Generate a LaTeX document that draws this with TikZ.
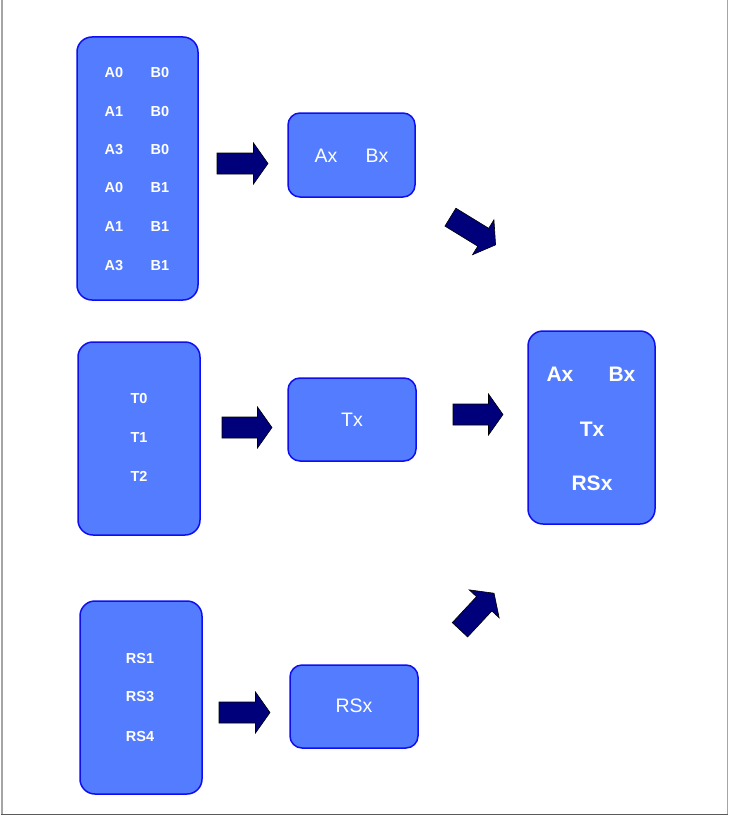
\documentclass[tikz,border=0pt]{standalone}
\usepackage{fontspec}
\setmainfont{Liberation Sans}
\definecolor{boxfill}{RGB}{84,124,255}
\definecolor{boxline}{RGB}{14,14,240}
\definecolor{navyarrow}{RGB}{0,0,122}
\definecolor{frameline}{RGB}{165,165,165}
\definecolor{framebase}{RGB}{90,90,90}
\tikzset{
  panel/.style={draw=boxline, fill=boxfill, line width=1.5pt, inner sep=0pt},
  bigpanel/.style={panel, rounded corners=15pt},
  smallpanel/.style={panel, rounded corners=12pt, minimum width=127pt, minimum height=83pt},
  smalllbl/.style={text=white, inner sep=0pt, font=\bfseries\fontsize{14.5}{14.5}\selectfont},
  midlbl/.style={text=white, inner sep=0pt, font=\fontsize{19.5}{19.5}\selectfont},
  biglbl/.style={text=white, inner sep=0pt, font=\bfseries\fontsize{21}{21}\selectfont},
  blockarrow/.pic={
    \filldraw[fill=navyarrow, draw=black, line width=0.6pt, line join=miter]
      (-#1/2,-10.5) -- (#1/2-14.5,-10.5) -- (#1/2-14.5,-20.5) -- (#1/2,0)
      -- (#1/2-14.5,20.5) -- (#1/2-14.5,10.5) -- (-#1/2,10.5) -- cycle;
  }
}
\begin{document}
\begin{tikzpicture}[x=1pt, y=-1pt]
  \useasboundingbox (0,0) rectangle (729,816);
  \fill[white] (0,0) rectangle (729,816);
  % page frame
  \draw[frameline, line width=1.2pt] (2,0) -- (2,814.5);
  \draw[frameline, line width=1.2pt] (727.5,0) -- (727.5,814.5);
  \draw[framebase, line width=1.4pt] (1.4,814.5) -- (728.1,814.5);

  % source panels
  \node[bigpanel, minimum width=121pt, minimum height=263pt] (ab) at (137.5,168.5) {};
  \node[bigpanel, minimum width=122pt, minimum height=193pt] (tt) at (139,438.5) {};
  \node[bigpanel, minimum width=122pt, minimum height=193pt] (rs) at (141,697.5) {};

  % A/B combinations
  \foreach \y/\a/\b [count=\i] in {73/A0/B0, 112/A1/B0, 150/A3/B0, 188/A0/B1, 227/A1/B1, 266/A3/B1} {
    \node[smalllbl] (a\i) at (114,\y) {\a};
    \node[smalllbl] (b\i) at (160,\y) {\b};
  }
  % T values
  \node[smalllbl] (t0) at (139,399) {T0};
  \node[smalllbl] (t1) at (139,438) {T1};
  \node[smalllbl] (t2) at (139,476) {T2};
  % RS values
  \node[smalllbl] (rs1) at (140,659) {RS1};
  \node[smalllbl] (rs3) at (140,697) {RS3};
  \node[smalllbl] (rs4) at (140,736) {RS4};

  % reduced panels
  \node[smallpanel, minimum height=84pt] (abx) at (351.5,155) {};
  \node[midlbl] (axl) at (326,156) {Ax};
  \node[midlbl] (bxl) at (377,156) {Bx};
  \node[smallpanel, minimum width=128pt] (tx) at (352,419.5) {};
  \node[midlbl] (txl) at (352,420) {Tx};
  \node[smallpanel, minimum width=128pt] (rsx) at (354,706.5) {};
  \node[midlbl] (rsxl) at (354,706) {RSx};

  % combined panel
  \node[bigpanel, minimum width=127pt, minimum height=193pt] (all) at (591.5,427.5) {};
  \node[biglbl] (fa) at (560,374) {Ax};
  \node[biglbl] (fb) at (622,374) {Bx};
  \node[biglbl] (ft) at (592,429) {Tx};
  \node[biglbl] (frs) at (592,483) {RSx};

  % block arrows
  \pic (ar1) at (242.5,163.5) {blockarrow=51};
  \pic (ar2) at (247,427.5) {blockarrow=50};
  \pic (ar3) at (244.5,712.5) {blockarrow=51};
  \pic (ar4) at (478,414.5) {blockarrow=50};
  \pic[rotate=-31.5] (ar5) at (473,231) {blockarrow=53};
  \pic[rotate=47] (ar6) at (477,611.5) {blockarrow=50};
\end{tikzpicture}
\end{document}
